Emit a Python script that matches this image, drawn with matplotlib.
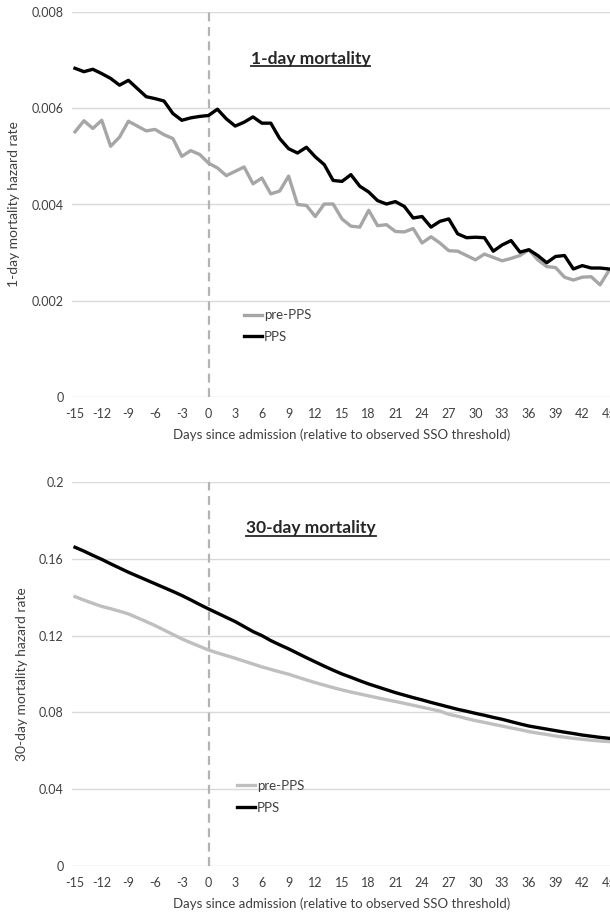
import matplotlib
matplotlib.use("Agg")
import matplotlib.pyplot as plt
from matplotlib.lines import Line2D
import numpy as np

plt.rcParams['font.family'] = ['Lato', 'DejaVu Sans']

days = list(range(-15, 46))
xtick_days = list(range(-15, 46, 3))

# 1-day mortality hazard rate
one_day_pre = [0.00551, 0.00574, 0.00558, 0.00575, 0.00521, 0.00540, 0.00573, 0.00563, 0.00553, 0.00556,
               0.00545, 0.00537, 0.00500, 0.00512, 0.00504, 0.00486, 0.00476, 0.00460, 0.00469, 0.00478,
               0.00443, 0.00455, 0.00422, 0.00428, 0.00459, 0.00400, 0.00398, 0.00375, 0.00401, 0.00401,
               0.00370, 0.00355, 0.00353, 0.00388, 0.00356, 0.00358, 0.00344, 0.00343, 0.00350, 0.00320,
               0.00333, 0.00320, 0.00304, 0.00303, 0.00294, 0.00285, 0.00297, 0.00290, 0.00283, 0.00288,
               0.00294, 0.00306, 0.00285, 0.00271, 0.00269, 0.00249, 0.00243, 0.00249, 0.00250, 0.00233,
               0.00263]
one_day_pps = [0.00683, 0.00676, 0.00681, 0.00672, 0.00662, 0.00648, 0.00658, 0.00641, 0.00624, 0.00620,
               0.00615, 0.00589, 0.00575, 0.00580, 0.00583, 0.00585, 0.00598, 0.00578, 0.00563, 0.00571,
               0.00582, 0.00569, 0.00569, 0.00537, 0.00516, 0.00507, 0.00519, 0.00499, 0.00483, 0.00450,
               0.00448, 0.00462, 0.00438, 0.00426, 0.00408, 0.00401, 0.00406, 0.00396, 0.00372, 0.00375,
               0.00353, 0.00365, 0.00370, 0.00339, 0.00331, 0.00332, 0.00331, 0.00303, 0.00316, 0.00325,
               0.00301, 0.00306, 0.00294, 0.00279, 0.00292, 0.00294, 0.00266, 0.00273, 0.00268, 0.00268,
               0.00266]

# 30-day mortality hazard rate
thirty_day_pre = [0.1403, 0.1385, 0.1368, 0.1352, 0.1340, 0.1327, 0.1313, 0.1293, 0.1273, 0.1252,
                  0.1229, 0.1206, 0.1183, 0.1163, 0.1144, 0.1125, 0.1110, 0.1096, 0.1082, 0.1067,
                  0.1052, 0.1037, 0.1024, 0.1011, 0.0999, 0.0984, 0.0969, 0.0955, 0.0942, 0.0929,
                  0.0917, 0.0906, 0.0896, 0.0886, 0.0876, 0.0866, 0.0857, 0.0847, 0.0837, 0.0827,
                  0.0817, 0.0807, 0.0790, 0.0780, 0.0768, 0.0757, 0.0748, 0.0738, 0.0729, 0.0719,
                  0.0710, 0.0700, 0.0692, 0.0685, 0.0677, 0.0671, 0.0665, 0.0660, 0.0655, 0.0651,
                  0.0648]
thirty_day_pps = [0.1660, 0.1640, 0.1618, 0.1597, 0.1574, 0.1552, 0.1530, 0.1510, 0.1490, 0.1470,
                  0.1450, 0.1430, 0.1409, 0.1386, 0.1362, 0.1339, 0.1317, 0.1295, 0.1273, 0.1247,
                  0.1221, 0.1200, 0.1174, 0.1152, 0.1131, 0.1108, 0.1085, 0.1063, 0.1041, 0.1020,
                  0.1000, 0.0983, 0.0965, 0.0948, 0.0933, 0.0918, 0.0903, 0.0890, 0.0877, 0.0865,
                  0.0852, 0.0840, 0.0828, 0.0816, 0.0806, 0.0795, 0.0785, 0.0774, 0.0764, 0.0752,
                  0.0740, 0.0729, 0.0721, 0.0713, 0.0705, 0.0697, 0.0690, 0.0682, 0.0676, 0.0670,
                  0.0665]

top_yticks = [0, 0.002, 0.004, 0.006, 0.008]
top_yticklabels = ['0', '0.002', '0.004', '0.006', '0.008']
bot_yticks = [0, 0.04, 0.08, 0.12, 0.16, 0.2]
bot_yticklabels = ['0', '0.04', '0.08', '0.12', '0.16', '0.2']

series_labels = ['pre-PPS', 'PPS']
xlabel = 'Days since admission (relative to observed SSO threshold)'

W, H = 610, 913
fig = plt.figure(figsize=(W / 100, H / 100), dpi=100)

TXT = '#404040'
GRID = '#D9D9D9'


def px_axes(left, top, right, bottom):
    return fig.add_axes([left / W, 1 - bottom / H, (right - left) / W, (bottom - top) / H])


def style(ax, yticks, yticklabels, ymax):
    ax.set_xlim(-15.34, 45.34)
    ax.set_ylim(0, ymax)
    ax.set_yticks(yticks)
    ax.set_yticklabels(yticklabels)
    ax.set_xticks(xtick_days)
    ax.set_xticklabels([str(d) for d in xtick_days])
    for s in ax.spines.values():
        s.set_visible(False)
    ax.tick_params(length=0, labelsize=9, colors=TXT, pad=6)
    ax.tick_params(axis='x', pad=8)
    ax.grid(axis='y', color=GRID, linewidth=1)
    ax.set_axisbelow(True)
    ax.axvline(0, color='#B3B3B3', linewidth=1.6, linestyle=(0, (4, 2.5)), zorder=1)
    ax.set_xlabel(xlabel, fontsize=9.5, color=TXT, labelpad=6)


def title_underlined(ax, text, x, y):
    t = ax.text(x, y, text, transform=ax.transAxes, fontsize=12.5, fontweight='bold',
                ha='left', va='baseline', color='#262626')
    return t


# top axes
ax1 = px_axes(72, 12, 612, 397)
style(ax1, top_yticks, top_yticklabels, 0.008)
ax1.plot(days, one_day_pre, color='#A6A6A6', linewidth=2.4, label=series_labels[0], zorder=3)
ax1.plot(days, one_day_pps, color='#000000', linewidth=2.4, label=series_labels[1], zorder=4)
ax1.set_ylabel('1-day mortality hazard rate', fontsize=10, color=TXT, labelpad=8)
t1 = title_underlined(ax1, '1-day mortality', 0.331, 0.866)
ax1.legend(loc='upper left', bbox_to_anchor=(0.318, 0.228), frameon=False, fontsize=9.5,
           handlelength=1.4, handletextpad=0.15, labelspacing=0.75, borderpad=0, borderaxespad=0,
           labelcolor=TXT)

# bottom axes
ax2 = px_axes(72, 482, 612, 866)
style(ax2, bot_yticks, bot_yticklabels, 0.2)
ax2.plot(days, thirty_day_pre, color='#BFBFBF', linewidth=2.4, label=series_labels[0], zorder=3)
ax2.plot(days, thirty_day_pps, color='#000000', linewidth=2.4, label=series_labels[1], zorder=4)
ax2.set_ylabel('30-day mortality hazard rate', fontsize=10, color=TXT, labelpad=8)
t2 = title_underlined(ax2, '30-day mortality', 0.322, 0.866)
ax2.legend(loc='upper left', bbox_to_anchor=(0.305, 0.224), frameon=False, fontsize=9.5,
           handlelength=1.4, handletextpad=0.15, labelspacing=0.75, borderpad=0, borderaxespad=0,
           labelcolor=TXT)

# underline titles
fig.canvas.draw()
r = fig.canvas.get_renderer()
for ax, t in ((ax1, t1), (ax2, t2)):
    bb = t.get_window_extent(renderer=r)
    base = ax.transAxes.transform(t.get_position())[1]
    yline = (base - 2.5) / H
    fig.add_artist(Line2D([bb.x0 / W, bb.x1 / W], [yline, yline], color='#262626', linewidth=1.3))

fig.savefig('out.png', dpi=100)
